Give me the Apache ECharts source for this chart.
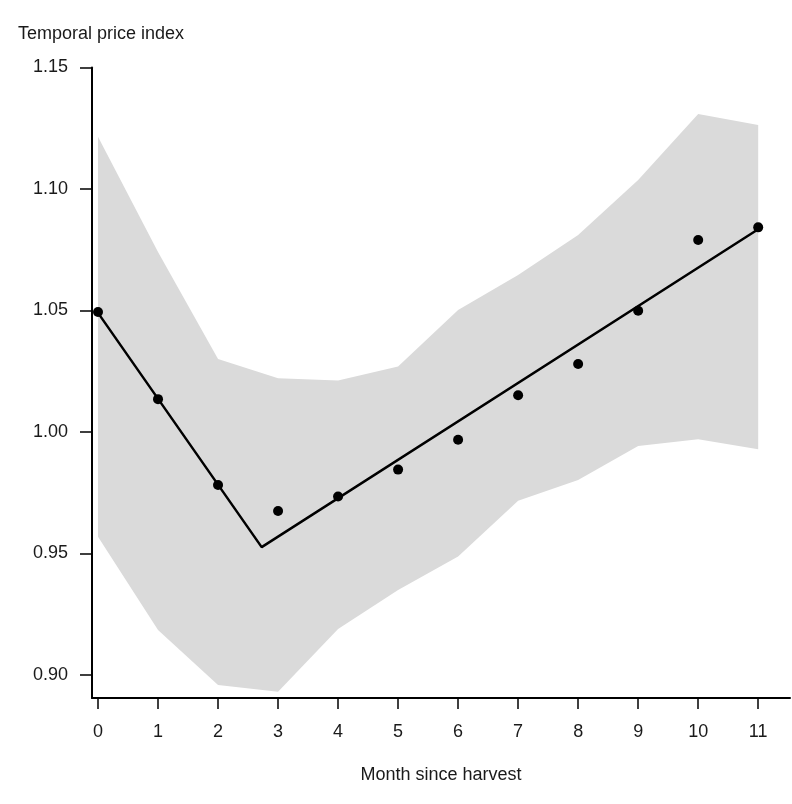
<!DOCTYPE html>
<html>
<head>
<meta charset="utf-8">
<script src="https://cdn.jsdelivr.net/npm/echarts@6/dist/echarts.min.js"></script>
<style>
html,body{margin:0;padding:0;background:#fff;}
#chart{width:792px;height:804px;}
</style>
</head>
<body>
<div id="chart"></div>
<script>
// Data
var months = [0, 1, 2, 3, 4, 5, 6, 7, 8, 9, 10, 11];
var observed = [1.0494, 1.0135, 0.9782, 0.9675, 0.9734, 0.9845, 0.9968, 1.0151, 1.0280, 1.0499, 1.0790, 1.0842];
var bandUpper = [1.1215, 1.0741, 1.0300, 1.0221, 1.0212, 1.0269, 1.0502, 1.0646, 1.0811, 1.1037, 1.1309, 1.1263];
var bandLower = [0.9569, 0.9185, 0.8959, 0.8931, 0.9189, 0.9350, 0.9487, 0.9717, 0.9802, 0.9942, 0.9970, 0.9929];
var fitX = [0, 2.727, 11];
var fitY = [1.0490, 0.9526, 1.0834];
var yTicks = [0.90, 0.95, 1.00, 1.05, 1.10, 1.15];
var xTicks = [0, 1, 2, 3, 4, 5, 6, 7, 8, 9, 10, 11];

var FONT = '"Liberation Sans", Arial, sans-serif';
var chart = echarts.init(document.getElementById('chart'), null, {renderer: 'canvas'});

var fitData = fitX.map(function (x, i) { return [x, fitY[i]]; });
var pointData = months.map(function (m, i) { return [m, observed[i]]; });

chart.setOption({
  animation: false,
  backgroundColor: '#ffffff',
  title: {
    text: 'Temporal price index',
    left: 13,
    top: 20,
    textStyle: {fontFamily: FONT, fontSize: 18, fontWeight: 'normal', color: '#1a1a1a'}
  },
  grid: {left: 92, right: 2, top: 67.5, bottom: 106, containLabel: false},
  xAxis: {
    type: 'value',
    min: -0.1,
    max: 11.53,
    name: 'Month since harvest',
    nameLocation: 'middle',
    nameGap: 68,
    nameTextStyle: {fontFamily: FONT, fontSize: 18, color: '#1a1a1a'},
    axisLine: {show: true, onZero: false, lineStyle: {color: '#000', width: 2}},
    axisTick: {show: true, length: 11, customValues: xTicks, lineStyle: {color: '#000', width: 1.5}},
    axisLabel: {customValues: xTicks, margin: 25, fontFamily: FONT, fontSize: 18, color: '#1a1a1a'},
    splitLine: {show: false}
  },
  yAxis: {
    type: 'value',
    min: 0.8905,
    max: 1.15,
    axisLine: {show: true, onZero: false, lineStyle: {color: '#000', width: 2}},
    axisTick: {show: true, length: 12, customValues: yTicks, lineStyle: {color: '#000', width: 1.5}},
    axisLabel: {
      customValues: yTicks, margin: 24, fontFamily: FONT, fontSize: 18, color: '#1a1a1a',
      formatter: function (v) { return v.toFixed(2); }
    },
    splitLine: {show: false}
  },
  series: [
    {
      type: 'custom',
      name: 'band',
      silent: true,
      z: 1,
      data: months.map(function (m, i) { return [m, bandUpper[i], bandLower[i]]; }),
      encode: {x: 0, y: [1, 2]},
      renderItem: function (params, api) {
        if (params.dataIndex !== 0) return;
        var pts = [];
        for (var i = 0; i < months.length; i++) pts.push(api.coord([months[i], bandUpper[i]]));
        for (var j = months.length - 1; j >= 0; j--) pts.push(api.coord([months[j], bandLower[j]]));
        return {type: 'polygon', shape: {points: pts}, style: {fill: '#dadada'}};
      }
    },
    {
      type: 'line',
      name: 'fit',
      data: fitData,
      symbol: 'none',
      z: 3,
      lineStyle: {color: '#000', width: 2.5}
    },
    {
      type: 'scatter',
      name: 'observed',
      data: pointData,
      symbol: 'circle',
      symbolSize: 10,
      z: 4,
      itemStyle: {color: '#000', opacity: 1}
    }
  ]
});
</script>
</body>
</html>
